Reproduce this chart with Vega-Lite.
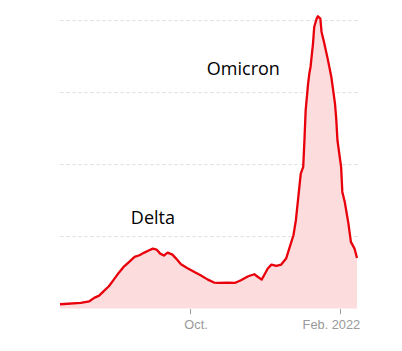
{
  "$schema": "https://vega.github.io/schema/vega-lite/v6.json",
  "autosize": {"type": "none"},
  "padding": {"left": 60, "top": 16, "right": 45, "bottom": 42},
  "width": 297,
  "height": 292.6,
  "background": "white",
  "config": {"view": {"stroke": null}},
  "datasets": {
    "cases": [
      {"date": "2021-06-17", "value": 0.06},
      {"date": "2021-07-04", "value": 0.078},
      {"date": "2021-07-11", "value": 0.101},
      {"date": "2021-07-15", "value": 0.148},
      {"date": "2021-07-19", "value": 0.18},
      {"date": "2021-07-23", "value": 0.245},
      {"date": "2021-07-27", "value": 0.309},
      {"date": "2021-07-31", "value": 0.401},
      {"date": "2021-08-04", "value": 0.494},
      {"date": "2021-08-08", "value": 0.577},
      {"date": "2021-08-12", "value": 0.637},
      {"date": "2021-08-17", "value": 0.715},
      {"date": "2021-08-21", "value": 0.738},
      {"date": "2021-08-25", "value": 0.775},
      {"date": "2021-08-29", "value": 0.807},
      {"date": "2021-09-01", "value": 0.83},
      {"date": "2021-09-04", "value": 0.817},
      {"date": "2021-09-07", "value": 0.761},
      {"date": "2021-09-10", "value": 0.734},
      {"date": "2021-09-13", "value": 0.775},
      {"date": "2021-09-17", "value": 0.747},
      {"date": "2021-09-20", "value": 0.692},
      {"date": "2021-09-24", "value": 0.614},
      {"date": "2021-09-29", "value": 0.563},
      {"date": "2021-10-05", "value": 0.508},
      {"date": "2021-10-10", "value": 0.461},
      {"date": "2021-10-16", "value": 0.401},
      {"date": "2021-10-21", "value": 0.36},
      {"date": "2021-10-25", "value": 0.355},
      {"date": "2021-11-01", "value": 0.36},
      {"date": "2021-11-07", "value": 0.355},
      {"date": "2021-11-12", "value": 0.392},
      {"date": "2021-11-18", "value": 0.448},
      {"date": "2021-11-23", "value": 0.475},
      {"date": "2021-11-26", "value": 0.438},
      {"date": "2021-11-29", "value": 0.401},
      {"date": "2021-12-01", "value": 0.461},
      {"date": "2021-12-04", "value": 0.554},
      {"date": "2021-12-07", "value": 0.609},
      {"date": "2021-12-11", "value": 0.591},
      {"date": "2021-12-15", "value": 0.609},
      {"date": "2021-12-19", "value": 0.692},
      {"date": "2021-12-22", "value": 0.854},
      {"date": "2021-12-25", "value": 1.015},
      {"date": "2021-12-27", "value": 1.223},
      {"date": "2021-12-29", "value": 1.546},
      {"date": "2021-12-31", "value": 1.869},
      {"date": "2022-01-02", "value": 1.961},
      {"date": "2022-01-03", "value": 2.33},
      {"date": "2022-01-04", "value": 2.745},
      {"date": "2022-01-06", "value": 3.114},
      {"date": "2022-01-07", "value": 3.253},
      {"date": "2022-01-08", "value": 3.345},
      {"date": "2022-01-10", "value": 3.668},
      {"date": "2022-01-11", "value": 3.898},
      {"date": "2022-01-13", "value": 4.014},
      {"date": "2022-01-14", "value": 4.046},
      {"date": "2022-01-16", "value": 4.014},
      {"date": "2022-01-17", "value": 3.829},
      {"date": "2022-01-19", "value": 3.691},
      {"date": "2022-01-22", "value": 3.46},
      {"date": "2022-01-25", "value": 3.206},
      {"date": "2022-01-28", "value": 2.837},
      {"date": "2022-01-29", "value": 2.63},
      {"date": "2022-01-30", "value": 2.33},
      {"date": "2022-02-02", "value": 1.961},
      {"date": "2022-02-03", "value": 1.615},
      {"date": "2022-02-05", "value": 1.476},
      {"date": "2022-02-08", "value": 1.176},
      {"date": "2022-02-10", "value": 0.923},
      {"date": "2022-02-13", "value": 0.83},
      {"date": "2022-02-15", "value": 0.701}
    ],
    "labels": [
      {"date": "2021-09-01", "value": 1.17, "label": "Delta"},
      {"date": "2021-11-14", "value": 3.23, "label": "Omicron"}
    ]
  },
  "encoding": {
    "x": {
      "field": "date",
      "type": "temporal",
      "scale": {"type": "utc", "nice": false},
      "axis": {
        "title": null,
        "domain": false,
        "grid": false,
        "values": [
          {"year": 2021, "month": 10, "date": 1, "utc": true},
          {"year": 2022, "month": 2, "date": 1, "utc": true}
        ],
        "labelExpr": "utcmonth(datum.value) == 9 ? 'Oct.' : 'Feb. 2022'",
        "labelFont": "Liberation Sans",
        "labelFontSize": 12.8,
        "labelColor": "#999999",
        "labelPadding": 5,
        "labelOffset": {"condition": {"test": "utcmonth(datum.value) == 9", "value": 6}, "value": -9},
        "tickColor": "#999999",
        "tickSize": 5,
        "tickWidth": 1
      }
    },
    "y": {
      "field": "value",
      "type": "quantitative",
      "scale": {"domain": [0, 4.05], "nice": false},
      "axis": {
        "title": null,
        "domain": false,
        "ticks": false,
        "labels": false,
        "values": [1, 2, 3, 4],
        "grid": true,
        "gridColor": "#dddddd",
        "gridDash": [3, 3],
        "gridWidth": 1
      }
    }
  },
  "layer": [
    {
      "data": {"name": "cases"},
      "mark": {"type": "area", "color": "#fcdcdc"}
    },
    {
      "data": {"name": "cases"},
      "mark": {"type": "line", "color": "#e8000b", "strokeWidth": 2.3, "strokeJoin": "round"}
    },
    {
      "data": {"name": "labels"},
      "mark": {"type": "text", "font": "Open Sans", "fontSize": 18, "color": "#000000", "align": "center", "baseline": "alphabetic"},
      "encoding": {"text": {"field": "label"}}
    }
  ]
}
